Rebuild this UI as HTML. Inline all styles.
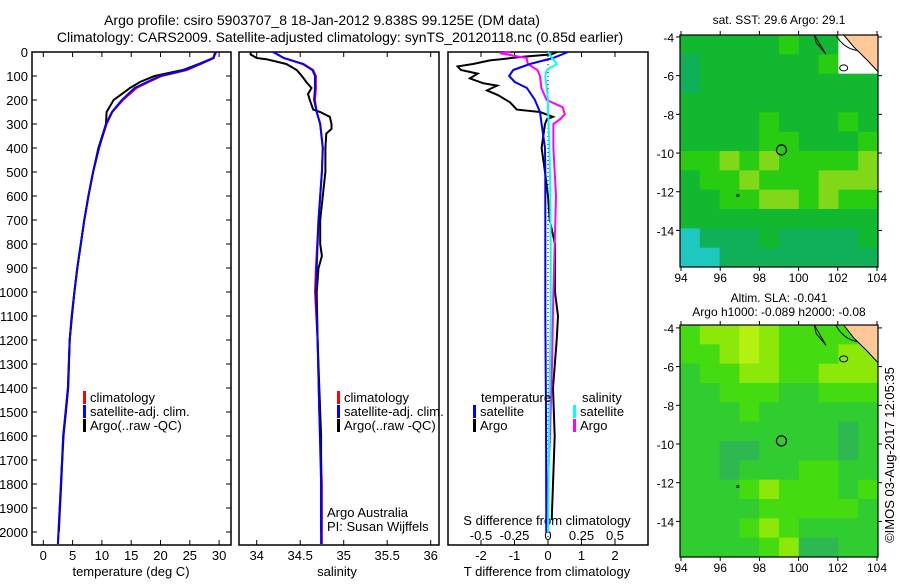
<!DOCTYPE html>
<html><head><meta charset="utf-8"><style>
body{margin:0;background:#fff;width:900px;height:580px;overflow:hidden}
svg{font-family:"Liberation Sans",sans-serif;font-size:13px}
</style></head><body>
<svg id="c" width="900" height="580" xmlns="http://www.w3.org/2000/svg">
<text x="322" y="25" text-anchor="middle" font-size="14">Argo profile: csiro 5903707_8 18-Jan-2012 9.838S 99.125E (DM data)</text>
<text x="340" y="42" text-anchor="middle" font-size="14">Climatology: CARS2009. Satellite-adjusted climatology: synTS_20120118.nc (0.85d earlier)</text>
<text x="779" y="24" text-anchor="middle" font-size="12">sat. SST: 29.6 Argo: 29.1</text>
<text x="779" y="302" text-anchor="middle" font-size="12">Altim. SLA: -0.041</text>
<text x="779" y="316" text-anchor="middle" font-size="12">Argo h1000: -0.089 h2000: -0.08</text>
<text transform="translate(894,455) rotate(-90)" text-anchor="middle" font-size="13">©IMOS 03-Aug-2017 12:05:35</text>
</svg>
<script>
const NS="http://www.w3.org/2000/svg";
const svg=document.getElementById('c');
// ---- data ----
const depthT=[0,25,50,75,100,125,150,200,250,300,400,500,600,700,800,900,1000,1100,1200,1400,1500,1600,1700,1800,1900,2000,2050];
const tempClim=[29.3,29.1,26.9,24.5,20.2,18.0,15.9,13.6,11.8,10.8,9.5,8.5,7.7,7.0,6.4,5.8,5.3,4.85,4.5,4.2,3.8,3.4,3.2,3.0,2.8,2.6,2.5];
const tempSat=[29.5,29.0,26.7,24.2,19.9,17.7,15.6,13.4,11.7,10.7,9.5,8.5,7.7,7.0,6.4,5.8,5.3,4.85,4.5,4.2,3.8,3.4,3.2,3.0,2.8,2.6,2.5];
const depthArgoT=[0,25,50,75,100,125,150,200,250,300,400,500,600,700,800,900,1000,1100,1200,1400,1500,1600,1700,1800,1900,2000];
const tempArgo=[29.4,29.0,26.5,23.8,19.0,16.5,14.8,12.0,10.8,10.7,9.4,8.5,7.7,7.0,6.4,5.8,5.3,4.9,4.5,4.25,3.85,3.45,3.25,3.05,2.85,2.65];
const depthS=[0,25,50,75,100,150,200,250,300,400,500,700,900,1000,1200,1500,1800,2050];
const salClim=[34.19,34.31,34.54,34.65,34.68,34.68,34.67,34.69,34.73,34.76,34.75,34.71,34.68,34.67,34.70,34.72,34.75,34.75];
const salSat=[34.19,34.31,34.53,34.64,34.67,34.67,34.66,34.69,34.73,34.76,34.75,34.71,34.69,34.68,34.70,34.72,34.74,34.74];
const depthArgoS=[0,10,25,30,50,75,100,125,150,175,200,240,250,270,300,320,340,400,500,600,700,800,850,900,1000,1200,1400,1600,1800,2000];
const salArgo=[33.93,33.93,34.0,34.11,34.34,34.46,34.52,34.57,34.63,34.59,34.61,34.65,34.73,34.84,34.86,34.86,34.80,34.79,34.79,34.76,34.73,34.73,34.75,34.71,34.69,34.70,34.72,34.74,34.74,34.74];
const depthD=[0,25,50,75,100,125,150,200,250,300,400,500,800,1100,1500,2000];
const dTsat=[0.6,0.15,-0.54,-1.04,-1.16,-0.99,-0.63,-0.39,-0.24,-0.19,-0.09,-0.08,-0.08,-0.08,-0.06,-0.05];
const depthArgoD=[0,10,20,35,50,60,75,90,110,130,140,160,180,210,240,250,270,280,300,400,500,600,700,800,1000,1100,1200,1400,1600,1800,1950];
const dTargo=[0.27,0.1,-0.75,-1.73,-2.24,-2.7,-2.6,-2.1,-2.33,-1.94,-1.52,-1.82,-1.49,-1.13,-0.93,-0.24,0.15,-0.03,-0.09,-0.19,-0.09,0.0,0.05,0.21,0.21,0.3,0.26,0.15,0.2,0.15,0.11];
const dSsat=[0.0,0.03,0.065,-0.01,-0.02,-0.015,-0.01,0.0,0.0,0.005,0.01,0.015,0.02,0.02,0.01,0.0];
const depthArgoDS=[0,5,15,25,50,75,100,150,200,230,260,280,300,400,500,600,800,1000,1300,1600,1900,2000];
const dSargo=[-0.28,-0.36,-0.26,-0.16,-0.15,-0.08,-0.06,-0.05,-0.01,0.11,0.125,0.09,0.04,0.04,0.05,0.06,0.05,0.04,0.03,0.015,-0.01,-0.01];
const depthTicks=[0,100,200,300,400,500,600,700,800,900,1000,1100,1200,1300,1400,1500,1600,1700,1800,1900,2000];
const tTicks=[0,5,10,15,20,25,30];
const sTicks=[34,34.5,35,35.5,36];
const dTTicks=[-2,-1,0,1,2];
const dSTicks=[-0.5,-0.25,0,0.25,0.5];
const dSLabels=["-0.5","-0.25","0","0.25","0.5"];
const lonTicks=[94,96,98,100,102,104];
const latTicks=[-4,-6,-8,-10,-12,-14];
const sstGrid=[
[2,2,2,2,2,3,2,2,9,9],[1,2,2,2,2,2,2,3,9,9],[1,2,2,2,2,2,2,2,2,2],[2,2,2,2,2,2,2,2,2,2],
[2,2,2,2,3,2,2,2,3,2],[2,2,2,2,3,3,2,2,2,3],[3,3,4,3,4,3,3,3,3,4],[2,3,3,4,3,3,3,4,4,4],
[2,2,3,3,4,4,3,4,3,3],[2,2,2,2,2,2,2,2,2,2],[0,1,1,1,2,1,1,1,1,2],[0,0,1,1,1,1,1,1,1,1]];
const slaGrid=[
[3,4,4,5,4,3,3,3,3,3],[3,3,4,5,4,3,3,3,4,4],[2,3,3,4,4,3,3,4,4,4],[2,2,3,3,3,2,2,3,3,3],
[2,2,2,3,2,2,2,2,2,2],[2,2,2,2,2,2,2,2,1,2],[2,2,1,1,2,2,2,2,1,2],[2,2,1,2,2,2,3,3,2,2],
[2,2,2,3,4,3,3,3,2,3],[2,2,2,2,3,3,3,3,3,2],[2,2,2,3,4,3,2,2,2,2],[2,2,2,2,3,4,1,1,2,2]];
const argoLon=99.125, argoLat=-9.838;
// ---- helpers ----
function el(tag,attrs,parent){const e=document.createElementNS(NS,tag);for(const k in attrs)e.setAttribute(k,attrs[k]);(parent||svg).appendChild(e);return e;}
const T0=52,PY=0.24,BOT=545;
const yD=d=>T0+d*PY;
const xT=v=>43.3+v*5.86;
const xS=v=>256.7+(v-34)*87;
const xDT=v=>548+v*33.5;
const xDS=v=>548+v*134;
function line(xs,ys,fx,color,name,w){
  const pts=xs.map((v,i)=>fx(v).toFixed(1)+','+yD(ys[i]).toFixed(1)).join(' ');
  const p=el('polyline',{points:pts,fill:'none',stroke:color,'stroke-width':w||2});
  
  
}
function text(x,y,s,anchor,name,size){
  const t=el('text',{x:x,y:y,'text-anchor':anchor||'start'});
  if(size)t.setAttribute('font-size',size);
  t.textContent=s;
  
  
  return t;
}
function frame(x0,x1,name){
  const r=el('rect',{x:x0,y:T0,width:x1-x0,height:BOT-T0,fill:'none',stroke:'#000','stroke-width':1.5});
  
  
}
// panels
frame(32,231,'temperature-panel');
frame(239,439,'salinity-panel');
frame(448,648,'difference-panel');
depthTicks.forEach(d=>{
  el('line',{x1:32,x2:37,y1:yD(d),y2:yD(d),stroke:'#000'});
  el('line',{x1:226,x2:231,y1:yD(d),y2:yD(d),stroke:'#000'});
  text(28,yD(d)+5,String(d),'end','depth-tick-label');
});
tTicks.forEach(v=>{el('line',{x1:xT(v),x2:xT(v),y1:T0,y2:T0+5,stroke:'#000'});el('line',{x1:xT(v),x2:xT(v),y1:BOT,y2:BOT-5,stroke:'#000'});text(xT(v),560,String(v),'middle','temp-tick-label');});
sTicks.forEach(v=>{el('line',{x1:xS(v),x2:xS(v),y1:T0,y2:T0+5,stroke:'#000'});el('line',{x1:xS(v),x2:xS(v),y1:BOT,y2:BOT-5,stroke:'#000'});text(xS(v),560,String(v),'middle','sal-tick-label');});
dTTicks.forEach(v=>{el('line',{x1:xDT(v),x2:xDT(v),y1:T0,y2:T0+5,stroke:'#000'});el('line',{x1:xDT(v),x2:xDT(v),y1:BOT,y2:BOT-5,stroke:'#000'});text(xDT(v),560,String(v),'middle','dt-tick-label');});
dSTicks.forEach((v,i)=>{text(xDS(v),540,dSLabels[i],'middle','ds-tick-label');});
text(131,576,'temperature (deg C)','middle','temp-axis-title');
text(337,576,'salinity','middle','sal-axis-title');
text(547,576,'T difference from climatology','middle','dt-axis-title');
text(547,525,'S difference from climatology','middle','ds-axis-title');
// series
line(tempClim,depthT,xT,'#f00','temp-climatology-line');
line(tempArgo,depthArgoT,xT,'#000','temp-argo-line');
line(tempSat,depthT,xT,'#00f','temp-satellite-line');
line(salClim,depthS,xS,'#f00','sal-climatology-line');
line(salArgo,depthArgoS,xS,'#000','sal-argo-line');
line(salSat,depthS,xS,'#00f','sal-satellite-line');
el('line',{x1:548,x2:548,y1:T0,y2:BOT,stroke:'#000','stroke-dasharray':'1,3'});
line(dTargo,depthArgoD,xDT,'#000','dt-argo-line');
line(dSargo,depthArgoDS,xDS,'#f0f','ds-argo-line');
line(dTsat,depthD,xDT,'#00f','dt-satellite-line');
line(dSsat,depthD,xDS,'#0ff','ds-satellite-line');
// legends
function leg(x,y,c,s,name){el('rect',{x:x,y:y-11,width:3,height:13,fill:c});text(x+7,y,s,'start',name);}
leg(83,402,'#f00','climatology','legend-climatology');
leg(83,416,'#00f','satellite-adj. clim.','legend-satellite-adj');
leg(83,430,'#000','Argo(..raw -QC)','legend-argo');
leg(337,402,'#f00','climatology','legend2-climatology');
leg(337,416,'#00f','satellite-adj. clim.','legend2-satellite-adj');
leg(337,430,'#000','Argo(..raw -QC)','legend2-argo');
text(327,517,'Argo Australia','start','credit-argo-australia');
text(327,531,'PI: Susan Wijffels','start','credit-pi');
text(481,402,'temperature','start','legend-temperature-header');
leg(473,416,'#00f','satellite','legend-dt-satellite');
leg(473,430,'#000','Argo','legend-dt-argo');
text(582,402,'salinity','start','legend-salinity-header');
leg(573,416,'#0ff','satellite','legend-ds-satellite');
leg(573,430,'#f0f','Argo','legend-ds-argo');
// maps
const sstPal=['#1ec8c0','#10b058','#12b830','#28cc10','#80d818','#b8ec10'];
const slaPal=['#1ec8c0','#30b850','#30cc30','#44dc10','#8ce808','#b4f010'];
function map(top,bot,latTop,grid,pal,name,hasWhite){
  const L=680,R=878;
  const xl=lon=>681+(lon-94)*19.6;
  const yl=lat=>top+ (latTop-lat)*19.35;
  const g=el('g',{});
  
  
  const rows=grid.length, cols=grid[0].length;
  const cw=(R-L)/cols, ch=(bot-top)/rows;
  grid.forEach((row,ri)=>row.forEach((v,ci)=>{
    const r=el('rect',{x:L+ci*cw,y:top+ri*ch,width:cw+0.5,height:ch+0.5,fill:v===9?'#fff':pal[v]},g);
    
    
  }));
  // land
  el('polygon',{points:`${xl(102.3)},${top} ${R},${top} ${R},${yl(-5.8)} ${xl(103.5)},${yl(-5.2)} ${xl(102.8)},${yl(-4.5)}`,fill:'#ffc896',stroke:'#000','stroke-width':1},g);
  el('path',{d:`M${xl(101.9)},${top} Q${xl(102.3)},${yl(-4.6)} ${xl(103)},${yl(-4.7)}`,fill:'none',stroke:'#000'},g);
  el('path',{d:`M${xl(100.8)},${top} L${xl(101.4)},${yl(-4.9)} L${xl(100.9)},${yl(-4.3)} Z`,fill:'none',stroke:'#000'},g);
  el('ellipse',{cx:xl(102.3),cy:yl(-5.6),rx:4,ry:3,fill:'none',stroke:'#000'},g);
  el('rect',{x:xl(96.85),y:yl(-12.15),width:2,height:2,fill:'none',stroke:'#000','stroke-width':0.8},g);
  const c=el('circle',{cx:xl(argoLon),cy:yl(argoLat),r:5,fill:'none',stroke:'#000','stroke-width':1.2},g);
  
  
  el('rect',{x:L,y:top,width:R-L,height:bot-top,fill:'none',stroke:'#000','stroke-width':1.2},g);
  lonTicks.forEach(v=>{el('line',{x1:xl(v),x2:xl(v),y1:top,y2:top-4,stroke:'#000'},g);el('line',{x1:xl(v),x2:xl(v),y1:bot,y2:bot+4,stroke:'#000'},g);text(xl(v),bot+15,String(v),'middle','lon-tick-label',12);});
  latTicks.forEach(v=>{el('line',{x1:L,x2:L-4,y1:yl(v),y2:yl(v),stroke:'#000'},g);el('line',{x1:R,x2:R+4,y1:yl(v),y2:yl(v),stroke:'#000'},g);text(L-6,yl(v)+5,String(v),'end','lat-tick-label',12);});
}
map(35,267,-3.9,sstGrid,sstPal,'sst-map');
map(325,557,-3.85,slaGrid,slaPal,'sla-map');
</script>
</body></html>
